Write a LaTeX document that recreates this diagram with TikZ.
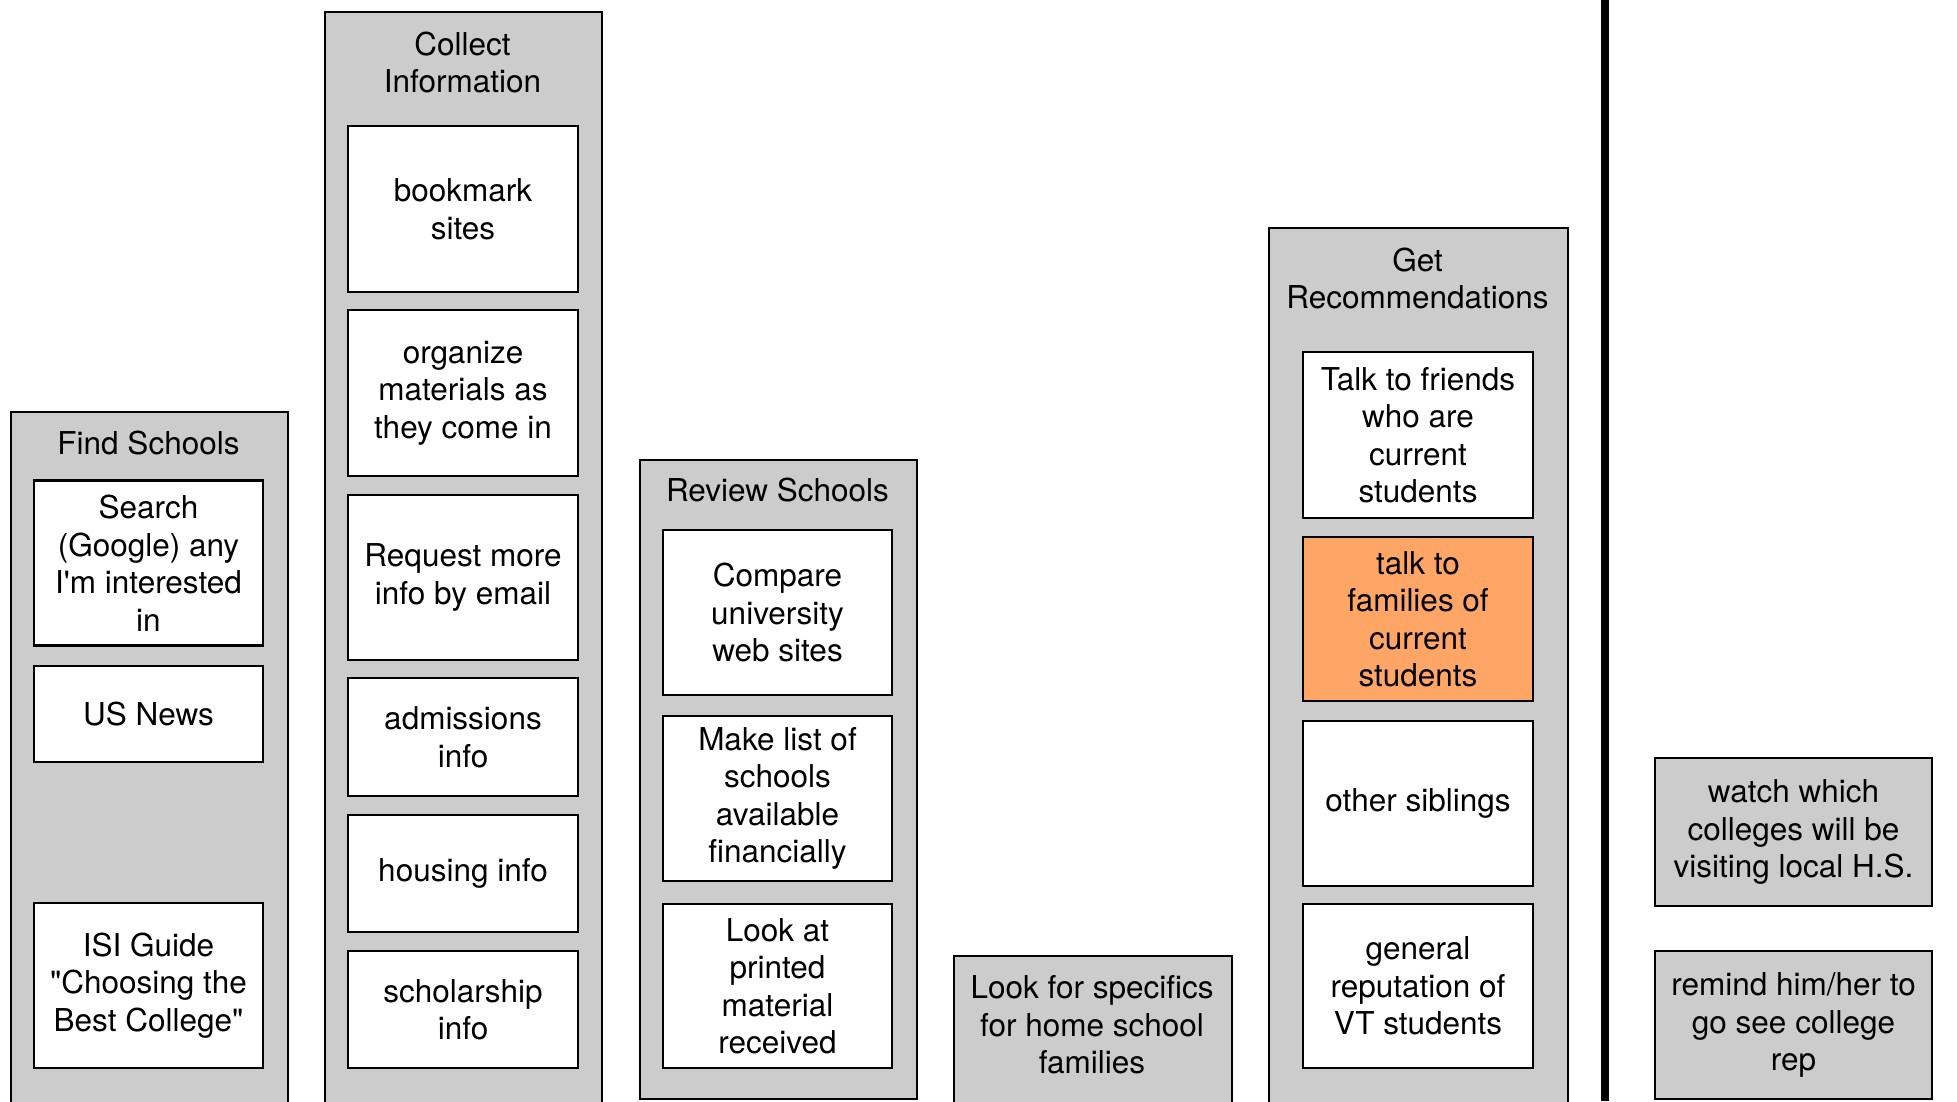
\documentclass[tikz,border=0pt]{standalone}
\usepackage{fontspec}
\setmainfont{TeX Gyre Heros}[Ligatures=TeXOff]
\begin{document}
\begin{tikzpicture}[x=1pt,y=-1pt,
  every node/.style={font=\fontsize{31.5}{37.5}\selectfont, align=center, inner sep=0pt},
  group/.style={draw=black, line width=2.4pt, fill=groupgray},
  card/.style={draw=black, line width=2.6pt, fill=white, rectangle},
  hot/.style={card, fill=hotorange},
  note/.style={draw=black, line width=2.4pt, fill=groupgray, rectangle}]
\definecolor{groupgray}{RGB}{204,204,204}
\definecolor{hotorange}{RGB}{255,166,102}
\useasboundingbox (0,0) rectangle (1957,1101);
\clip (0,0) rectangle (1957,1101);

% containers
\node[group, minimum width=277pt, minimum height=700pt, anchor=north west] (gfind) at (10,411) {};
\node[group, minimum width=277pt, minimum height=1100pt, anchor=north west] (gcollect) at (324,11) {};
\node[group, minimum width=277pt, minimum height=639pt, anchor=north west] (greview) at (639,459) {};
\node[group, minimum width=278pt, minimum height=160pt, anchor=north west] (glook) at (953,955) {};
\node[group, minimum width=299pt, minimum height=884pt, anchor=north west] (grec) at (1268,227) {};

% titles
\node (tfind) at (148.5,443.5) {Find Schools};
\node (tcollect) at (462.5,62.5) {Collect\\Information};
\node (treview) at (777.5,490.5) {Review Schools};
\node (trec) at (1417.5,278.5) {Get\\Recommendations};
\node (tlook) at (1092,1025) {Look for specifics\\for home school\\families};

% Find Schools cards
\node[card, minimum width=229pt, minimum height=165pt] (search) at (148.5,563) {Search\\(Google) any\\I'm interested\\in};
\node[card, minimum width=229pt, minimum height=96pt] (usnews) at (148.5,714) {US News};
\node[card, minimum width=229pt, minimum height=165pt] (isi) at (148.5,985.5) {ISI Guide\\"Choosing the\\Best College"};

% Collect Information cards
\node[card, minimum width=230pt, minimum height=166pt] (bookmark) at (463,209) {bookmark\\sites};
\node[card, minimum width=230pt, minimum height=166pt] (organize) at (463,393) {organize\\materials as\\they come in};
\node[card, minimum width=230pt, minimum height=165pt] (request) at (463,577.5) {Request more\\info by email};
\node[card, minimum width=230pt, minimum height=118pt] (admissions) at (463,737) {admissions\\info};
\node[card, minimum width=230pt, minimum height=117pt] (housing) at (463,873.5) {housing info};
\node[card, minimum width=230pt, minimum height=117pt] (scholarship) at (463,1009.5) {scholarship\\info};

% Review Schools cards
\node[card, minimum width=229pt, minimum height=165pt] (compare) at (777.5,612.5) {Compare\\university\\web sites};
\node[card, minimum width=229pt, minimum height=165pt] (makelist) at (777.5,798.5) {Make list of\\schools\\available\\financially};
\node[card, minimum width=229pt, minimum height=164pt] (lookat) at (777.5,986) {Look at\\printed\\material\\received};

% Get Recommendations cards
\node[card, minimum width=230pt, minimum height=166pt] (friends) at (1418,435) {Talk to friends\\who are\\current\\students};
\node[hot, minimum width=230pt, minimum height=164pt] (families) at (1418,619) {talk to\\families of\\current\\students};
\node[card, minimum width=230pt, minimum height=165pt] (siblings) at (1418,803.5) {other siblings};
\node[card, minimum width=230pt, minimum height=164pt] (reputation) at (1418,986) {general\\reputation of\\VT students};

% divider
\coordinate (dtop) at (1605,0);
\coordinate (dbot) at (1605,1101);
\draw[line width=7.5pt] (dtop) -- (dbot);

% right notes
\node[note, minimum width=277pt, minimum height=148pt] (watch) at (1793.5,832) {watch which\\colleges will be\\visiting local H.S.};
\node[note, minimum width=277pt, minimum height=148pt] (remind) at (1793.5,1025) {remind him/her to\\go see college\\rep};
\end{tikzpicture}
\end{document}
